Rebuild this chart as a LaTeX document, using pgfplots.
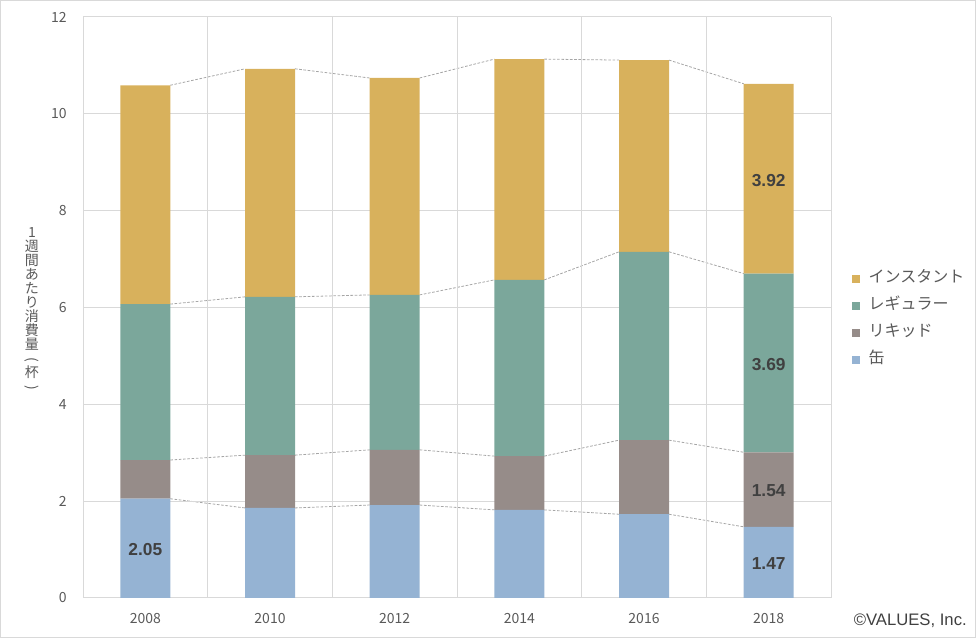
\documentclass[border=0pt]{standalone}
\usepackage{pgfplots}
\pgfplotsset{compat=1.18}
\usepackage{fontspec}
\setmainfont{Noto Sans CJK JP}
\newfontfamily\numfont{Liberation Sans}

\definecolor{kan}{HTML}{95B3D3}
\definecolor{liquid}{HTML}{968C89}
\definecolor{regular}{HTML}{7BA79B}
\definecolor{instant}{HTML}{D8B15C}
\definecolor{gridgray}{HTML}{D9D9D9}
\definecolor{labelgray}{HTML}{595959}
\definecolor{lbldark}{HTML}{404040}
\definecolor{linegray}{HTML}{A6A6A6}

\tikzset{lbl/.style={font=\numfont\bfseries\fontsize{13}{13}\selectfont, text=lbldark}}
\pgfplotsset{overlay axis/.style={
    at={(62.25pt,30pt)}, anchor=south west,
    scale only axis, width=561pt, height=435.75pt,
    xmin=-0.5, xmax=5.5, ymin=0, ymax=12}}

% 1 px of the reference = 0.75pt
\begin{document}
\begin{tikzpicture}
\useasboundingbox (0pt,0pt) rectangle (732pt,478.5pt);
\draw[gridgray, line width=0.75pt] (0.375pt,0.375pt) rectangle (731.625pt,478.125pt);

% series lines between the bars
\begin{axis}[
    overlay axis,
    hide axis, unbounded coords=jump,
    sline/.style={linegray, line width=0.6pt, dash pattern=on 2pt off 1.2pt, mark=none},
]
\addplot[sline] coordinates {(0.2,2.05)(0.8,1.86)(1,nan)(1.2,1.86)(1.8,1.92)(2,nan)(2.2,1.92)(2.8,1.82)(3,nan)(3.2,1.82)(3.8,1.73)(4,nan)(4.2,1.73)(4.8,1.47)};
\addplot[sline] coordinates {(0.2,2.85)(0.8,2.95)(1,nan)(1.2,2.95)(1.8,3.06)(2,nan)(2.2,3.06)(2.8,2.93)(3,nan)(3.2,2.93)(3.8,3.26)(4,nan)(4.2,3.26)(4.8,3.01)};
\addplot[sline] coordinates {(0.2,6.07)(0.8,6.22)(1,nan)(1.2,6.22)(1.8,6.26)(2,nan)(2.2,6.26)(2.8,6.57)(3,nan)(3.2,6.57)(3.8,7.15)(4,nan)(4.2,7.15)(4.8,6.70)};
\addplot[sline] coordinates {(0.2,10.59)(0.8,10.93)(1,nan)(1.2,10.93)(1.8,10.74)(2,nan)(2.2,10.74)(2.8,11.13)(3,nan)(3.2,11.13)(3.8,11.11)(4,nan)(4.2,11.11)(4.8,10.62)};
\end{axis}

\begin{axis}[
    overlay axis,
    ybar stacked, bar width=37.5pt,
    xtick={0,1,2,3,4,5},
    xticklabels={2008,2010,2012,2014,2016,2018},
    minor xtick={-0.5,0.5,1.5,2.5,3.5,4.5,5.5},
    ytick={0,2,4,6,8,10,12},
    xminorgrids=true, ymajorgrids=true, xmajorgrids=false,
    grid style={gridgray, line width=0.75pt},
    minor grid style={gridgray, line width=0.75pt},
    axis line style={draw=none},
    major tick length=0pt, minor tick length=0pt,
    /pgf/number format/assume math mode=true,
    tick label style={font=\fontsize{10.5}{10.5}\selectfont, text=labelgray, inner sep=0pt},
    xticklabel style={anchor=center, yshift=-15.75pt},
    yticklabel style={anchor=east, xshift=-12pt},
    reverse legend,
    legend cell align=left,
    legend style={at={(1.028,0.479)}, anchor=west, draw=none, fill=none,
        inner sep=0pt, row sep=8.25pt, column sep=6.75pt,
        font=\fontsize{12}{12}\selectfont, text=labelgray,
        nodes={inner sep=0pt, text height=8.6pt, text depth=3.4pt}},
    legend image code/.code={\fill[#1] (0pt,-2.8pt) rectangle (5.6pt,2.8pt);},
]
\addplot[fill=kan, draw=none] coordinates {(0,2.05)(1,1.86)(2,1.92)(3,1.82)(4,1.73)(5,1.47)};
\addplot[fill=liquid, draw=none] coordinates {(0,0.80)(1,1.09)(2,1.14)(3,1.11)(4,1.53)(5,1.54)};
\addplot[fill=regular, draw=none] coordinates {(0,3.22)(1,3.27)(2,3.20)(3,3.64)(4,3.89)(5,3.69)};
\addplot[fill=instant, draw=none] coordinates {(0,4.52)(1,4.71)(2,4.48)(3,4.56)(4,3.96)(5,3.92)};
\legend{缶, リキッド, レギュラー, インスタント}
\end{axis}

% data labels
\begin{axis}[overlay axis, hide axis]
\node[lbl] at (axis cs:0,1.0) {2.05};
\node[lbl] at (axis cs:5,0.71) {1.47};
\node[lbl] at (axis cs:5,2.22) {1.54};
\node[lbl] at (axis cs:5,4.83) {3.69};
\node[lbl] at (axis cs:5,8.63) {3.92};
\end{axis}

\node[align=center, text=labelgray, font=\fontsize{10.5}{10.5}\selectfont] at (24pt,246pt)
  {1\\週\\間\\あ\\た\\り\\消\\費\\量\\\rotatebox[origin=c]{-90}{(}\\杯\\\rotatebox[origin=c]{-90}{)}};
\node[anchor=east, inner sep=0pt, text=lbldark, font=\numfont\fontsize{12.5}{12.5}\selectfont] at (725.25pt,12.75pt) {©VALUES, Inc.};
\end{tikzpicture}
\end{document}
